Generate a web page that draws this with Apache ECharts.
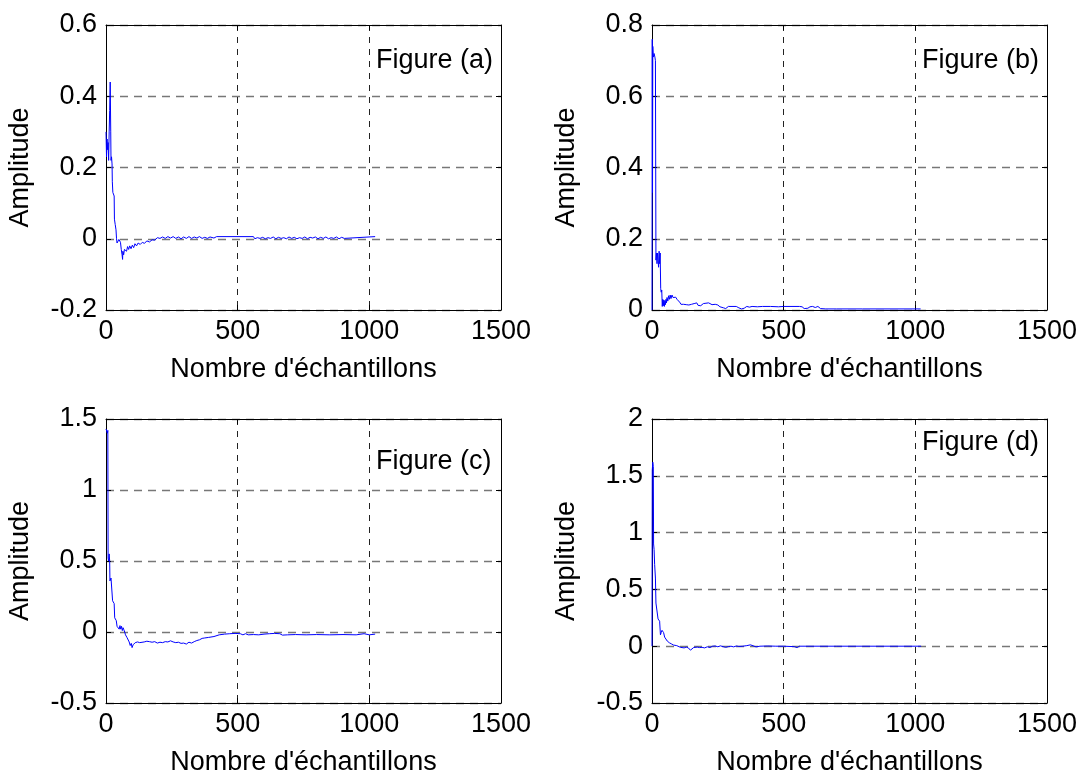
<!DOCTYPE html>
<html>
<head>
<meta charset="utf-8">
<title>Amplitude</title>
<script src="https://cdn.jsdelivr.net/npm/echarts@6/dist/echarts.min.js"></script>
<style>
  html, body { margin: 0; padding: 0; background: #fff; }
  #chart { width: 1082px; height: 777px; }
</style>
</head>
<body>
<div id="chart"></div>
<script>
// x tick labels shared by the 4 panels
const xTicks = [0, 500, 1000, 1500];

// panel (a)
const samplesA = [0, 2, 4, 6, 8, 10, 12, 14, 16, 18, 19, 21, 23, 24, 26, 29, 31, 32, 35, 38,
  40, 42, 45, 47, 49, 52, 55, 58, 61, 63, 64, 67, 70, 74, 78, 82, 86, 90, 95, 100,
  105, 110, 116, 122, 130, 138, 146, 155, 165, 175, 185, 195, 205, 215, 225, 235, 245, 255, 265, 275,
  285, 295, 305, 315, 325, 335, 345, 355, 365, 375, 385, 395, 410, 420, 560, 565, 575, 585, 595, 605,
  615, 625, 635, 645, 655, 665, 675, 685, 695, 705, 715, 725, 735, 745, 755, 765, 775, 785, 795, 805,
  815, 825, 835, 845, 855, 865, 875, 885, 895, 905, 912, 1022];
const ampA = [0.30, 0.23, 0.28, 0.25, 0.27, 0.22, 0.30, 0.36, 0.44, 0.30, 0.22, 0.23, 0.21, 0.16, 0.13, 0.13, 0.12, 0.055, 0.04, 0.025,
  0.0, -0.012, -0.008, -0.014, -0.002, -0.005, -0.01, -0.03, -0.045, -0.058, -0.035, -0.045, -0.03, -0.025, -0.035, -0.022, -0.03, -0.02, -0.028, -0.018,
  -0.025, -0.014, -0.02, -0.012, -0.016, -0.01, -0.013, -0.006, -0.009, -0.003, -0.004, 0.003, 0.001, 0.005, 0.001, 0.006, 0.002, 0.006, 0.001, 0.005,
  0.0, 0.005, 0.001, 0.006, 0.001, 0.005, 0.002, 0.006, 0.001, 0.004, 0.001, 0.005, 0.002, 0.006, 0.006, 0.0, 0.003, 0.001, 0.004, 0.0,
  0.003, 0.001, 0.005, 0.0, 0.004, 0.001, 0.003, 0.0, 0.005, 0.001, 0.004, 0.0, 0.003, 0.001, 0.005, 0.0, 0.004, 0.002, 0.005, 0.0,
  0.004, 0.001, 0.005, 0.0, 0.003, 0.001, 0.005, 0.0, 0.004, 0.001, 0.006, 0.006];

// panel (b)
const samplesB = [0, 1, 2, 3, 5, 8, 11, 13, 15, 17, 19, 21, 23, 25, 27, 29, 31, 33, 35, 37,
  39, 41, 43, 45, 47, 49, 51, 53, 55, 57, 60, 63, 66, 69, 72, 76, 80, 85, 90, 95,
  100, 105, 110, 115, 120, 125, 130, 135, 140, 145, 150, 155, 160, 165, 170, 175, 180, 185, 190, 195,
  200, 205, 210, 215, 220, 228, 235, 240, 245, 250, 258, 265, 272, 280, 290, 300, 320, 330, 335, 340,
  345, 350, 360, 370, 380, 400, 420, 450, 480, 500, 560, 565, 570, 578, 585, 592, 600, 610, 620, 630,
  640, 660, 700, 800, 900, 1020];
const ampB = [0.0, 0.76, 0.33, 0.74, 0.71, 0.72, 0.71, 0.70, 0.14, 0.16, 0.13, 0.16, 0.14, 0.12, 0.165, 0.13, 0.16, 0.06, 0.05, 0.056,
  0.01, 0.03, 0.012, 0.028, 0.01, 0.026, 0.015, 0.03, 0.02, 0.035, 0.025, 0.04, 0.03, 0.042, 0.032, 0.042, 0.035, 0.04, 0.036, 0.03,
  0.027, 0.022, 0.016, 0.013, 0.016, 0.012, 0.015, 0.011, 0.014, 0.01, 0.016, 0.012, 0.018, 0.014, 0.02, 0.013, 0.016, 0.012, 0.015, 0.018,
  0.014, 0.019, 0.022, 0.02, 0.018, 0.015, 0.012, 0.016, 0.011, 0.014, 0.009, 0.012, 0.006, 0.004, 0.01, 0.01, 0.01, 0.006, 0.001, 0.003,
  0.008, 0.005, 0.01, 0.008, 0.01, 0.009, 0.01, 0.01, 0.009, 0.01, 0.01, 0.005, 0.009, 0.004, 0.008, 0.005, 0.009, 0.01, 0.007, 0.01,
  0.004, 0.003, 0.003, 0.003, 0.003, 0.003];

// panel (c)
const samplesC = [0, 3, 5, 7, 8, 10, 12, 14, 15, 17, 19, 21, 23, 25, 28, 31, 33, 36, 39, 42,
  44, 47, 50, 53, 56, 59, 62, 65, 68, 71, 74, 77, 80, 84, 88, 92, 96, 99, 103, 107,
  111, 115, 120, 128, 135, 145, 155, 165, 175, 185, 195, 205, 215, 225, 235, 245, 255, 265, 275, 285,
  295, 305, 315, 325, 335, 345, 355, 365, 375, 390, 410, 430, 450, 470, 490, 510, 520, 530, 540, 560,
  580, 600, 620, 640, 660, 670, 690, 720, 760, 800, 850, 900, 950, 980, 1000, 1022];
const ampC = [1.43, 1.44, 1.40, 1.42, 0.52, 0.50, 0.55, 0.50, 0.36, 0.36, 0.38, 0.38, 0.37, 0.22, 0.21, 0.20, 0.10, 0.09, 0.08, 0.04,
  0.03, 0.045, 0.02, 0.045, 0.02, 0.04, 0.01, 0.03, 0.015, 0.0, -0.02, -0.015, -0.04, -0.035, -0.07, -0.095, -0.08, -0.11, -0.09, -0.095,
  -0.075, -0.085, -0.07, -0.075, -0.065, -0.07, -0.065, -0.068, -0.072, -0.068, -0.078, -0.072, -0.075, -0.068, -0.07, -0.062, -0.07, -0.075, -0.072, -0.08,
  -0.078, -0.085, -0.072, -0.078, -0.068, -0.06, -0.055, -0.045, -0.042, -0.038, -0.032, -0.02, -0.015, -0.012, -0.01, -0.012, -0.02, -0.012, -0.02, -0.018,
  -0.02, -0.015, -0.012, -0.01, -0.012, -0.022, -0.02, -0.018, -0.02, -0.018, -0.02, -0.018, -0.02, -0.012, -0.02, -0.015];

// panel (d)
const samplesD = [0, 1, 3, 5, 6, 8, 10, 13, 15, 18, 20, 23, 26, 29, 32, 35, 38, 41, 44, 48,
  52, 55, 58, 62, 66, 70, 74, 78, 82, 88, 94, 100, 108, 115, 122, 130, 138, 146, 152, 158,
  165, 172, 180, 190, 200, 210, 220, 230, 240, 250, 260, 270, 280, 290, 300, 310, 320, 330, 345, 360,
  374, 380, 395, 410, 440, 470, 500, 540, 551, 560, 600, 700, 800, 900, 1022];
const ampD = [0.0, 1.55, 1.62, 1.58, 0.90, 0.85, 0.72, 0.60, 0.38, 0.37, 0.37, 0.24, 0.23, 0.22, 0.10, 0.12, 0.14, 0.13, 0.12, 0.08,
  0.07, 0.08, 0.045, 0.05, 0.03, 0.035, 0.02, 0.025, 0.01, 0.015, 0.005, 0.008, -0.01, -0.005, -0.015, -0.008, -0.015, -0.035, -0.02, -0.012,
  -0.018, -0.008, -0.012, -0.01, -0.015, -0.005, -0.012, 0.0, 0.002, -0.005, 0.003, -0.004, -0.01, -0.004, 0.0, -0.006, 0.002, -0.002, 0.0, 0.005,
  0.012, 0.0, -0.006, 0.0, 0.002, 0.0, 0.0, -0.004, -0.012, 0.0, 0.0, 0.0, 0.0, 0.0, 0.0];

// y axis ranges / tick labels per panel
const yTicksA = [-0.2, 0, 0.2, 0.4, 0.6];
const yTicksB = [0, 0.2, 0.4, 0.6, 0.8];
const yTicksC = [-0.5, 0, 0.5, 1, 1.5];
const yTicksD = [-0.5, 0, 0.5, 1, 1.5, 2];

const panelNames = ['Figure (a)', 'Figure (b)', 'Figure (c)', 'Figure (d)'];

const FONT = '"Liberation Sans", Arial, sans-serif';
const FS = 27;

const panels = [
  { s: samplesA, v: ampA, y: yTicksA, grid: { left: 106, top: 25, width: 395, height: 285 }, label: { left: 376, top: 47 } },
  { s: samplesB, v: ampB, y: yTicksB, grid: { left: 652, top: 25, width: 395, height: 285 }, label: { left: 922, top: 47 } },
  { s: samplesC, v: ampC, y: yTicksC, grid: { left: 106, top: 419, width: 395, height: 287 }, label: { left: 376, top: 448 } },
  { s: samplesD, v: ampD, y: yTicksD, grid: { left: 652, top: 419, width: 395, height: 287 }, label: { left: 922, top: 429 } },
];

const grids = [], xAxes = [], yAxes = [], series = [], titles = [];

// plain number, no thousands separator (matlab style)
const plain = (v) => String(Math.round(v * 1000) / 1000);

panels.forEach((p, i) => {
  grids.push(Object.assign({ show: false }, p.grid));
  const yMin = p.y[0], yMax = p.y[p.y.length - 1], yStep = p.y[1] - p.y[0];

  // main bottom axis
  xAxes.push({
    type: 'value', gridIndex: i, min: xTicks[0], max: xTicks[xTicks.length - 1], interval: 500,
    name: "Nombre d'échantillons", nameLocation: 'middle', nameGap: 46,
    nameTextStyle: { fontFamily: FONT, fontSize: FS, color: '#000' },
    axisLine: { show: true, onZero: false, lineStyle: { color: '#000', width: 1 } },
    axisTick: { show: true, inside: true, length: 5, lineStyle: { color: '#000' } },
    axisLabel: { fontFamily: FONT, fontSize: FS, color: '#000', margin: 8, formatter: plain },
    splitLine: { show: true, lineStyle: { color: '#222', width: 1, type: [6, 6] } },
  });
  // top mirror axis (ticks only)
  xAxes.push({
    type: 'value', gridIndex: i, position: 'top', min: xTicks[0], max: xTicks[xTicks.length - 1], interval: 500,
    axisLine: { show: true, onZero: false, lineStyle: { color: '#000', width: 1 } },
    axisTick: { show: true, inside: true, length: 5, lineStyle: { color: '#000' } },
    axisLabel: { show: false }, splitLine: { show: false },
  });

  yAxes.push({
    type: 'value', gridIndex: i, min: yMin, max: yMax, interval: yStep,
    name: 'Amplitude', nameLocation: 'middle', nameGap: 72,
    nameTextStyle: { fontFamily: FONT, fontSize: FS, color: '#000' },
    axisLine: { show: true, onZero: false, lineStyle: { color: '#000', width: 1 } },
    axisTick: { show: true, inside: true, length: 5, lineStyle: { color: '#000' } },
    axisLabel: { fontFamily: FONT, fontSize: FS, color: '#000', margin: 9, formatter: plain },
    splitLine: { show: true, lineStyle: { color: '#777', width: 1.3, type: [8, 6] } },
  });
  yAxes.push({
    type: 'value', gridIndex: i, position: 'right', min: yMin, max: yMax, interval: yStep,
    axisLine: { show: true, onZero: false, lineStyle: { color: '#000', width: 1 } },
    axisTick: { show: true, inside: true, length: 5, lineStyle: { color: '#000' } },
    axisLabel: { show: false }, splitLine: { show: false },
  });

  series.push({
    type: 'line', xAxisIndex: i * 2, yAxisIndex: i * 2,
    data: p.s.map((x, k) => [x, p.v[k]]),
    showSymbol: false, symbol: 'none',
    lineStyle: { color: '#0000ff', width: 1 },
    animation: false,
  });

  titles.push({
    text: panelNames[i], left: p.label.left, top: p.label.top, padding: 0,
    textStyle: { fontFamily: FONT, fontSize: FS, fontWeight: 'normal', color: '#000' },
  });
});

const myChart = echarts.init(document.getElementById('chart'), null, { renderer: 'canvas' });
myChart.setOption({
  backgroundColor: '#fff',
  animation: false,
  title: titles,
  grid: grids,
  xAxis: xAxes,
  yAxis: yAxes,
  series: series,
});
</script>
</body>
</html>
